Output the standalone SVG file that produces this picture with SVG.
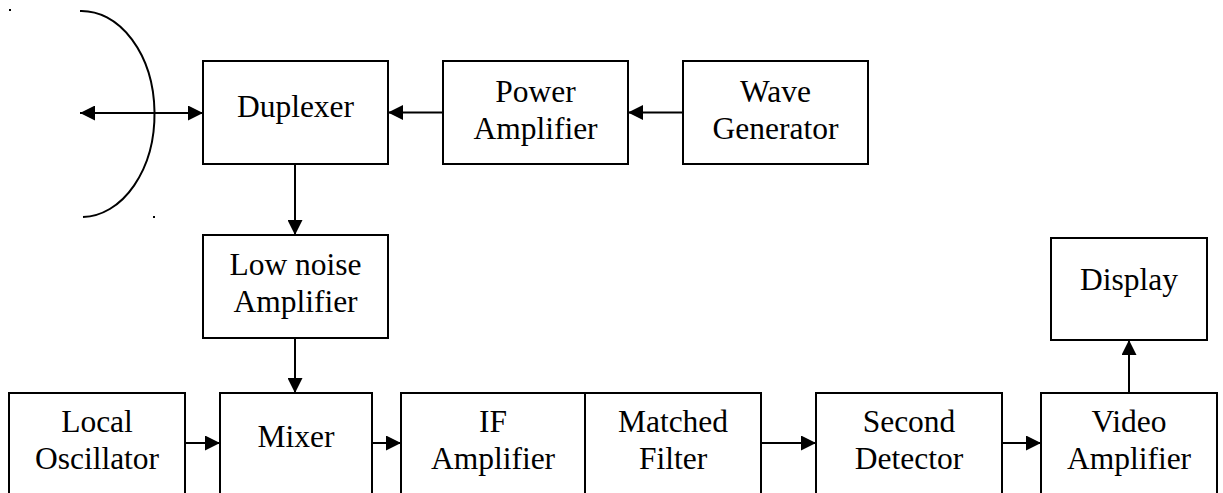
<svg xmlns="http://www.w3.org/2000/svg" width="1223" height="493" viewBox="0 0 1223 493">
<defs>
<marker id="ah" markerUnits="userSpaceOnUse" markerWidth="16" markerHeight="15" refX="15" refY="7.5" orient="auto-start-reverse">
<path d="M0,0 L15,7.5 L0,15 Z" fill="#000"/>
</marker>
<style>
.box{fill:#fff;stroke:#000;stroke-width:2}
.t{font-family:"Liberation Serif","Times New Roman",serif;font-size:31.5px;fill:#000;text-anchor:middle}
.c{fill:none;stroke:#000;stroke-width:2}
</style>
</defs>
<rect width="1223" height="493" fill="#fff"/>
<g id="antenna">
<path class="c" d="M80,11 A73,103 0 0 1 83,217"/>
<rect x="9" y="9" width="2" height="2" fill="#000"/>
<rect x="153" y="216" width="2" height="2" fill="#000"/>
</g>
<g id="duplexer"><rect class="box" x="203" y="61" width="185" height="103"/><text class="t" x="295.5" y="117">Duplexer</text></g>
<g id="power-amplifier"><rect class="box" x="443" y="61" width="185" height="103"/><text class="t" x="535.5" y="101.5">Power</text><text class="t" x="535.5" y="138.5">Amplifier</text></g>
<g id="wave-generator"><rect class="box" x="683" y="61" width="185" height="103"/><text class="t" x="775.5" y="101.5">Wave</text><text class="t" x="775.5" y="138.5">Generator</text></g>
<g id="low-noise-amplifier"><rect class="box" x="203" y="235" width="185" height="103"/><text class="t" x="295.5" y="275">Low noise</text><text class="t" x="295.5" y="312">Amplifier</text></g>
<g id="display"><rect class="box" x="1051" y="238" width="156" height="102"/><text class="t" x="1129" y="290">Display</text></g>
<g id="local-oscillator"><rect class="box" x="9" y="393" width="176" height="110"/><text class="t" x="97" y="432">Local</text><text class="t" x="97" y="469">Oscillator</text></g>
<g id="mixer"><rect class="box" x="220" y="393" width="152" height="110"/><text class="t" x="296" y="447">Mixer</text></g>
<g id="if-amplifier"><rect class="box" x="401" y="393" width="184" height="110"/><text class="t" x="493" y="432">IF</text><text class="t" x="493" y="469">Amplifier</text></g>
<g id="matched-filter"><rect class="box" x="585" y="393" width="176" height="110"/><text class="t" x="673" y="432">Matched</text><text class="t" x="673" y="469">Filter</text></g>
<g id="second-detector"><rect class="box" x="816" y="393" width="186" height="110"/><text class="t" x="909" y="432">Second</text><text class="t" x="909" y="469">Detector</text></g>
<g id="video-amplifier"><rect class="box" x="1041" y="393" width="176" height="110"/><text class="t" x="1129" y="432">Video</text><text class="t" x="1129" y="469">Amplifier</text></g>
<g id="connectors" class="c">
<line x1="80" y1="113" x2="203" y2="113" marker-start="url(#ah)" marker-end="url(#ah)"/>
<line x1="443" y1="112.5" x2="388" y2="112.5" marker-end="url(#ah)"/>
<line x1="683" y1="112.5" x2="628" y2="112.5" marker-end="url(#ah)"/>
<line x1="295" y1="164" x2="295" y2="235" marker-end="url(#ah)"/>
<line x1="295" y1="338" x2="295" y2="393" marker-end="url(#ah)"/>
<line x1="185" y1="443" x2="220" y2="443" marker-end="url(#ah)"/>
<line x1="372" y1="443" x2="401" y2="443" marker-end="url(#ah)"/>
<line x1="761" y1="443" x2="816" y2="443" marker-end="url(#ah)"/>
<line x1="1002" y1="443" x2="1041" y2="443" marker-end="url(#ah)"/>
<line x1="1129" y1="393" x2="1129" y2="340" marker-end="url(#ah)"/>
</g>
</svg>
